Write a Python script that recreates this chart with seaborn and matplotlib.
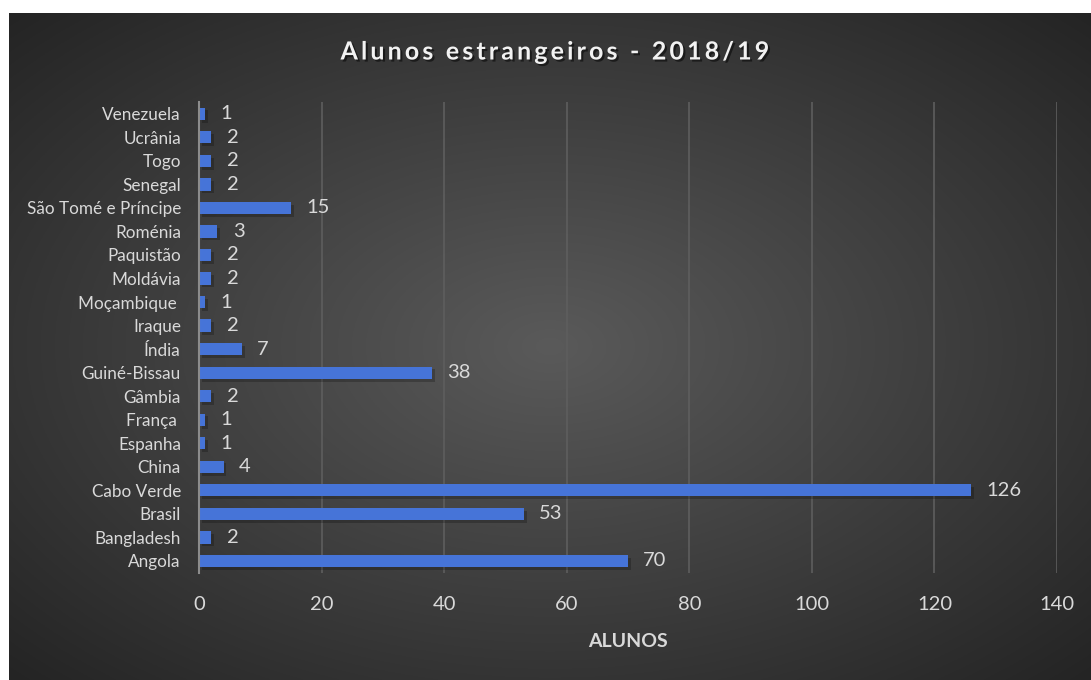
import numpy as np
import pandas as pd
import matplotlib
matplotlib.use("Agg")
import matplotlib.pyplot as plt
import matplotlib.patheffects as pe
import seaborn as sns

countries = ["Angola", "Bangladesh", "Brasil", "Cabo Verde", "China", "Espanha",
             "França ", "Gâmbia", "Guiné-Bissau", "Índia", "Iraque", "Moçambique ",
             "Moldávia", "Paquistão", "Roménia", "São Tomé e Príncipe", "Senegal",
             "Togo", "Ucrânia", "Venezuela"]
alunos = [70, 2, 53, 126, 4, 1, 1, 2, 38, 7, 2, 1, 2, 2, 3, 15, 2, 2, 2, 1]
xticks = [0, 20, 40, 60, 80, 100, 120, 140]

df = pd.DataFrame({"pais": countries, "alunos": alunos})

sns.set_theme(style="white")
plt.rcParams["font.family"] = ["Lato", "DejaVu Sans"]

W, H = 1091, 680
fig = plt.figure(figsize=(W / 100, H / 100), dpi=100)
fig.patch.set_facecolor("white")

# radial gradient background
bg = fig.add_axes([9 / W, 0, 1 - 9 / W, (H - 13) / H], zorder=0)
bx, by = np.meshgrid(np.linspace(-1, 1, 600), np.linspace(-1, 1, 400))
r = np.sqrt(bx ** 2 + by ** 2) / np.sqrt(2)
r = np.clip(r, 0, 1)
c_in = np.array([0x5a, 0x5a, 0x5a]) / 255
c_out = np.array([0x24, 0x24, 0x24]) / 255
img = c_in[None, None, :] * (1 - r[..., None]) + c_out[None, None, :] * r[..., None]
bg.imshow(img, aspect="auto", extent=[0, 1, 0, 1], origin="lower")
bg.set_axis_off()

ax = fig.add_axes([199 / W, (H - 572.75) / H, (1057 - 199) / W, (572.75 - 102) / H], zorder=1)
ax.set_facecolor("none")

sns.barplot(data=df, x="alunos", y="pais", order=countries[::-1], orient="h",
            color="#4674d8", saturation=1, width=0.52, ax=ax, zorder=3,
            edgecolor="none")

for p in ax.patches:
    p.set_path_effects([pe.SimplePatchShadow(offset=(2, -2), shadow_rgbFace="black", alpha=0.22),
                        pe.Normal()])

for c in ax.containers:
    ax.bar_label(c, labels=[f"{v:g}" for v in c.datavalues], padding=11,
                 color="#d9d9d9", fontsize=14.5)

ax.set_xlim(0, 140)
ax.set_ylim(len(countries) - 0.5, -0.5)
ax.set_xticks(xticks)
ax.set_xticklabels([str(t) for t in xticks], color="#d9d9d9", fontsize=14.5)
ax.tick_params(axis="x", length=0, pad=17)
ax.tick_params(axis="y", length=0, pad=13, labelsize=12.3, labelcolor="#d9d9d9")
ax.xaxis.grid(True, color="#5e5e5e", linewidth=1.2, zorder=0)
ax.set_axisbelow(True)
for s in ["top", "right", "bottom"]:
    ax.spines[s].set_visible(False)
ax.spines["left"].set_color("#8c8c8c")
ax.spines["left"].set_linewidth(1.5)
ax.spines["left"].set_zorder(4)
ax.set_ylabel("")
ax.set_xlabel("ALUNOS", color="#d9d9d9", fontsize=14, fontweight="bold", labelpad=14)

title = "A l u n o s   e s t r a n g e i r o s   -   2 0 1 8 / 1 9".replace("   ", "\u2002").replace(" ", "\u2009")
fig.text(555 / W, 1 - 52 / H, title,
         ha="center", va="center", fontsize=18, fontweight="bold", color="#f2f2f2",
         path_effects=[pe.withSimplePatchShadow(offset=(1.5, -1.5), shadow_rgbFace="black", alpha=0.5)])

fig.savefig("out.png", dpi=100, facecolor=fig.get_facecolor())
